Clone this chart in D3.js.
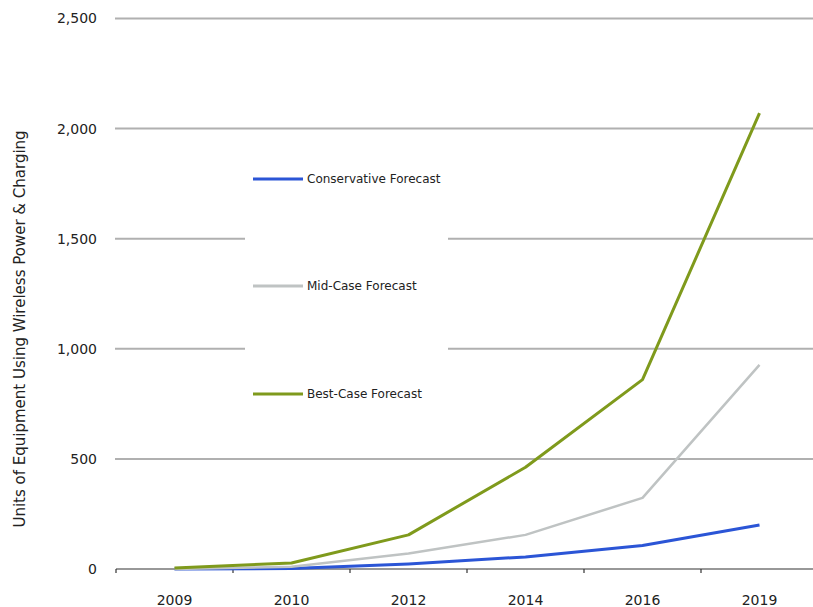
<!DOCTYPE html>
<html>
<head>
<meta charset="utf-8">
<script src="https://cdn.jsdelivr.net/npm/d3@7"></script>
<style>
  html, body { margin: 0; padding: 0; background: #fff; }
  svg text { font-family: "DejaVu Sans", Verdana, sans-serif; fill: #222; }
</style>
</head>
<body>
<svg id="chart" width="813" height="607"></svg>
<script>
// Forecast years (category axis) and units for each scenario
const years = ["2009", "2010", "2012", "2014", "2016", "2019"];
const conservative = [0, 2, 23, 55, 107, 200];
const midCase = [0, 10, 70, 155, 323, 927];
const bestCase = [5, 27, 155, 462, 860, 2070];
const yTicks = [0, 500, 1000, 1500, 2000, 2500];

const seriesNames = ["Conservative Forecast", "Mid-Case Forecast", "Best-Case Forecast"];
const seriesColors = ["#2b55d6", "#bfc3c3", "#7f9a1c"];
const seriesWidths = [3, 2.5, 3];
const seriesValues = [conservative, midCase, bestCase];

const svg = d3.select("#chart");
const plotLeft = 116, plotRight = 813, plotTop = 18.5, plotBottom = 569;

const x = d3.scaleBand().domain(years).range([plotLeft, plotLeft + 117 * years.length]);
const y = d3.scaleLinear().domain([0, 2500]).range([plotBottom, plotTop]);

// Horizontal gridlines
svg.append("g")
  .selectAll("line")
  .data(yTicks.filter(d => d > 0))
  .join("line")
  .attr("x1", plotLeft - 1).attr("x2", plotRight)
  .attr("y1", d => y(d)).attr("y2", d => y(d))
  .attr("stroke", "#b0b0b0").attr("stroke-width", 2);

// Y axis tick labels
const yAxis = d3.axisLeft(y).tickValues(yTicks).tickFormat(d3.format(",")).tickSize(0).tickPadding(19);
const yg = svg.append("g").attr("transform", `translate(${plotLeft},0)`).call(yAxis);
yg.select(".domain").remove();
yg.selectAll("text").style("font-size", "14px").attr("fill", "#222");

// X axis: baseline with ticks at category boundaries
svg.append("line")
  .attr("x1", plotLeft).attr("x2", plotRight)
  .attr("y1", plotBottom).attr("y2", plotBottom)
  .attr("stroke", "#333").attr("stroke-width", 1.2);
const boundaries = years.map(d => x(d));
svg.append("g")
  .selectAll("line")
  .data(boundaries)
  .join("line")
  .attr("x1", d => d).attr("x2", d => d)
  .attr("y1", plotBottom).attr("y2", plotBottom + 4)
  .attr("stroke", "#333").attr("stroke-width", 1.2);

svg.append("g")
  .selectAll("text")
  .data(years)
  .join("text")
  .attr("x", d => x(d) + x.bandwidth() / 2)
  .attr("y", 605)
  .attr("text-anchor", "middle")
  .style("font-size", "14px")
  .text(d => d);

// Y axis title
svg.append("text")
  .attr("transform", "translate(25,329) rotate(-90)")
  .attr("text-anchor", "middle")
  .style("font-size", "15px")
  .text("Units of Equipment Using Wireless Power & Charging");

// Legend box (white panel that masks the gridlines)
svg.append("rect")
  .attr("x", 245).attr("y", 150).attr("width", 203).attr("height", 268)
  .attr("fill", "#fff");

// Series lines
const line = d3.line()
  .x((d, i) => x(years[i]) + x.bandwidth() / 2)
  .y(d => y(d));

svg.append("g")
  .selectAll("path")
  .data(seriesValues)
  .join("path")
  .attr("d", d => line(d))
  .attr("fill", "none")
  .attr("stroke", (d, i) => seriesColors[i])
  .attr("stroke-width", (d, i) => seriesWidths[i])
  .attr("stroke-linejoin", "round");

// Legend entries
const legendY = [179, 286, 394];
const lg = svg.append("g")
  .selectAll("g")
  .data(seriesNames)
  .join("g")
  .attr("transform", (d, i) => `translate(253,${legendY[i]})`);
lg.append("line")
  .attr("x1", 0).attr("x2", 50)
  .attr("stroke", (d, i) => seriesColors[i])
  .attr("stroke-width", 3);
lg.append("text")
  .attr("x", 54).attr("dy", "0.35em")
  .style("font-size", "12px")
  .text(d => d);
</script>
</body>
</html>
